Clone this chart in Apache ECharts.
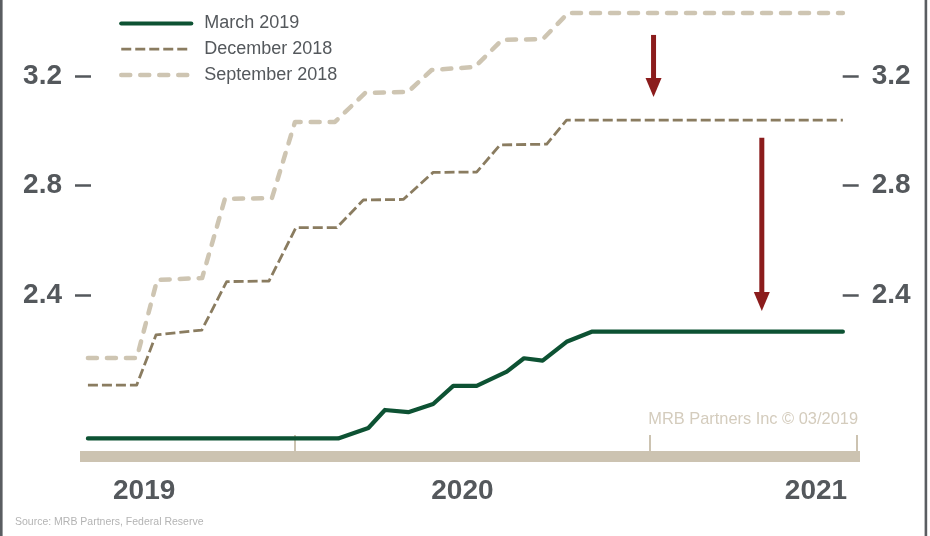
<!DOCTYPE html>
<html>
<head>
<meta charset="utf-8">
<script src="https://cdn.jsdelivr.net/npm/echarts@6/dist/echarts.min.js"></script>
<style>
  html, body { margin: 0; padding: 0; background: #fff; }
  #chart { width: 930px; height: 536px; }
</style>
</head>
<body>
<div id="chart"></div>
<script>
// Fed funds rate path projections; x = months since Jan 2019, y = percent
const seriesNames = ['March 2019', 'December 2018', 'September 2018'];

const march2019 = [
  [5.00, 1.876], [13.46, 1.876], [14.48, 1.914], [15.04, 1.980], [15.83, 1.972],
  [16.67, 2.002], [17.35, 2.068], [18.14, 2.068], [19.16, 2.120], [19.74, 2.169],
  [20.37, 2.160], [21.18, 2.229], [22.03, 2.266], [30.52, 2.266]
];

const december2018 = [
  [5.00, 2.071], [6.65, 2.071], [7.30, 2.254], [8.85, 2.272], [9.69, 2.449],
  [11.12, 2.451], [12.03, 2.646], [13.41, 2.646], [14.31, 2.747], [15.66, 2.749],
  [16.67, 2.848], [18.14, 2.849], [18.93, 2.948], [20.51, 2.951], [21.18, 3.039],
  [30.52, 3.039]
];

const september2018 = [
  [5.00, 2.170], [6.65, 2.170], [7.34, 2.455], [8.86, 2.462], [9.63, 2.751],
  [11.22, 2.754], [12.00, 3.032], [13.35, 3.032], [14.37, 3.138], [15.82, 3.142],
  [16.62, 3.222], [18.08, 3.233], [19.00, 3.332], [20.38, 3.335], [21.23, 3.430],
  [30.52, 3.430]
];

// Axis ticks and labels
const yTickValues = [2.4, 2.8, 3.2];
const yearLabels = ['2019', '2020', '2021'];
const yearLabelPos = [6.9, 17.66, 29.61];
const yearTickPos = [12, 24, 31.0];

// Downward revision arrows: [x, from, to]
const revisionArrows = [
  [24.12, 3.350, 3.123],
  [27.78, 2.974, 2.342]
];

const TEXT = '#54585c';
const SAND = '#ccc3b1';
const FONT = '"Liberation Sans", Arial, Helvetica, sans-serif';

const chart = echarts.init(document.getElementById('chart'), null, { renderer: 'canvas' });

const yAxisBase = {
  type: 'value',
  min: 1.81,
  max: 3.45,
  splitLine: { show: false },
  axisLine: { show: false },
  axisTick: {
    show: true,
    customValues: yTickValues,
    length: 16,
    lineStyle: { color: TEXT, width: 2.5 }
  },
  axisLabel: {
    show: true,
    customValues: yTickValues,
    formatter: v => v.toFixed(1),
    color: TEXT,
    fontSize: 28,
    fontWeight: 'bold',
    fontFamily: FONT,
    margin: 29,
    padding: [8, 0, 0, 0]
  }
};

chart.setOption({
  animation: false,
  backgroundColor: '#ffffff',
  grid: { left: 80, right: 70, top: 7.56, bottom: 79.49, containLabel: false },
  legend: {
    orient: 'vertical',
    left: 114,
    top: 9.5,
    itemWidth: 70,
    itemHeight: 18,
    itemGap: 7.7,
    data: seriesNames,
    itemStyle: { opacity: 0 },
    lineStyle: { width: 'inherit', type: 'inherit', cap: 'inherit' },
    textStyle: { color: TEXT, fontSize: 18, fontFamily: FONT, padding: [0, 0, 0, 8] }
  },
  xAxis: {
    type: 'value',
    min: 4.732,
    max: 31.099,
    splitLine: { show: false },
    axisLine: { show: true, lineStyle: { color: SAND, width: 11, cap: 'butt' } },
    axisTick: {
      show: true,
      inside: true,
      customValues: yearTickPos,
      length: 21.5,
      lineStyle: { color: SAND, width: 2 }
    },
    axisLabel: {
      show: true,
      customValues: yearLabelPos,
      formatter: v => yearLabels[yearLabelPos.indexOf(v)] || '',
      color: TEXT,
      fontSize: 28,
      fontWeight: 'bold',
      fontFamily: FONT,
      margin: 21
    }
  },
  yAxis: [
    Object.assign({}, yAxisBase, { position: 'left', offset: -11 }),
    Object.assign({}, yAxisBase, { position: 'right', offset: -17.3 })
  ],
  series: [
    {
      name: 'September 2018',
      type: 'line',
      data: september2018,
      symbol: 'none',
      clip: false,
      lineStyle: { color: '#cec5b2', width: 4.5, type: [9, 10], cap: 'round', join: 'round' },
      itemStyle: { color: '#cec5b2' }
    },
    {
      name: 'December 2018',
      type: 'line',
      data: december2018,
      symbol: 'none',
      clip: false,
      lineStyle: { color: '#8a7c60', width: 2.8, type: [10, 4], join: 'round' },
      itemStyle: { color: '#8a7c60' }
    },
    {
      name: 'March 2019',
      type: 'line',
      data: march2019,
      symbol: 'none',
      clip: false,
      lineStyle: { color: '#0d5233', width: 4.2, type: 'solid', cap: 'round', join: 'round' },
      itemStyle: { color: '#0d5233' }
    }
  ]
});

// Frame, credits and revision arrows
const graphics = [
  { type: 'rect', shape: { x: 0, y: 0, width: 2.6, height: 536 }, style: { fill: '#5a5d61' }, silent: true },
  { type: 'rect', shape: { x: 924.6, y: 0, width: 2.6, height: 536 }, style: { fill: '#5a5d61' }, silent: true },
  {
    type: 'text', x: 858, y: 419.5, silent: true,
    style: { text: 'MRB Partners Inc \u00a9 03/2019', fill: '#d4ccbd', font: '16.4px ' + FONT, align: 'right', verticalAlign: 'middle' }
  },
  {
    type: 'text', x: 15, y: 522.5, silent: true,
    style: { text: 'Source: MRB Partners, Federal Reserve', fill: '#b4b4b4', font: '10.5px ' + FONT, align: 'left', verticalAlign: 'middle' }
  }
];

const HEAD_H = 19, HEAD_W = 16, SHAFT_W = 5, ARROW = '#8b1c1c';
revisionArrows.forEach(([x, y0, y1]) => {
  const p0 = chart.convertToPixel({ xAxisIndex: 0, yAxisIndex: 0 }, [x, y0]);
  const p1 = chart.convertToPixel({ xAxisIndex: 0, yAxisIndex: 0 }, [x, y1]);
  graphics.push({
    type: 'rect', silent: true,
    shape: { x: p0[0] - SHAFT_W / 2, y: p0[1], width: SHAFT_W, height: p1[1] - HEAD_H - p0[1] + 1 },
    style: { fill: ARROW }
  });
  graphics.push({
    type: 'polygon', silent: true,
    shape: { points: [[p1[0] - HEAD_W / 2, p1[1] - HEAD_H], [p1[0] + HEAD_W / 2, p1[1] - HEAD_H], [p1[0], p1[1]]] },
    style: { fill: ARROW }
  });
});

chart.setOption({ graphic: graphics });
</script>
</body>
</html>
